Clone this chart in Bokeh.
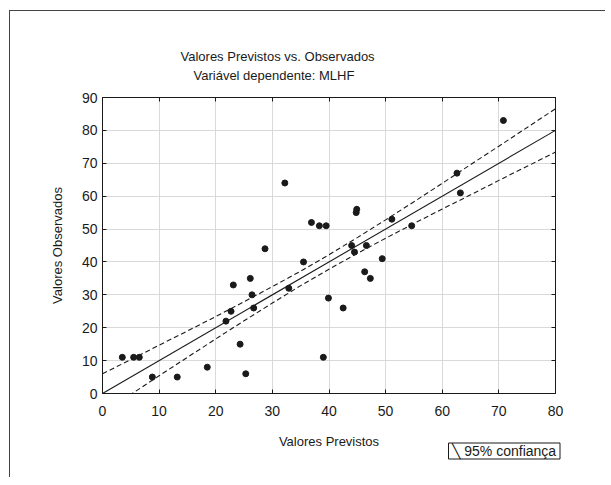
from bokeh.plotting import figure
from bokeh.models import FixedTicker, LinearAxis, Range1d, Title
from bokeh.embed import file_html
from bokeh.resources import INLINE

# ---------------- data ----------------
predicted = [3.5, 5.5, 6.5, 8.8, 13.2, 18.5, 21.8, 22.7, 23.1, 24.3, 25.3, 26.1,
             26.4, 26.7, 28.7, 32.9, 35.5, 32.2, 36.9, 38.3, 39.5, 44.0, 44.5,
             44.8, 44.9, 46.6, 49.4, 46.3, 47.3, 51.1, 54.6, 62.6, 63.2, 70.8,
             39.9, 42.5, 39.0]
observed = [11, 11, 11, 5, 5, 8, 22, 25, 33, 15, 6, 35,
            30, 26, 44, 32, 40, 64, 52, 51, 51, 45, 43,
            55, 56, 45, 41, 37, 35, 53, 51, 67, 61, 83,
            29, 26, 11]

fit_x = [0, 80]
fit_y = [0, 80]

band_x = [0, 5, 10, 15, 20, 25, 30, 35, 40, 45, 50, 55, 60, 65, 70, 75, 80]
band_upper = [6.0, 10.3, 14.7, 19.0, 23.4, 27.9, 32.5, 37.2, 42.2, 47.4, 52.8,
              58.3, 63.9, 69.6, 75.2, 80.9, 86.6]
band_lower = [-6.0, -0.3, 5.4, 11.0, 16.6, 22.1, 27.5, 32.8, 37.8, 42.6, 47.2,
              51.7, 56.1, 60.4, 64.8, 69.1, 73.4]

x_ticks = [0, 10, 20, 30, 40, 50, 60, 70, 80]
y_ticks = [0, 10, 20, 30, 40, 50, 60, 70, 80, 90]

title_line1 = "Valores Previstos vs. Observados"
title_line2 = "Variável dependente: MLHF"
x_label = "Valores Previstos"
y_label = "Valores Observados"
legend_label = "95% confiança"
legend_icon = "\u2572"

# ---------------- styling ----------------
FONT = "Liberation Sans"
INK = "#1a1a1a"
NB = "\u00a0"

p = figure(frame_width=453, frame_height=296,
           x_range=Range1d(0, 80), y_range=Range1d(0, 90),
           output_backend="svg", toolbar_location=None,
           min_border_left=92, min_border_right=50,
           min_border_top=86, min_border_bottom=84,
           background_fill_color="white", border_fill_color="white")
p.styles = {"margin-left": "9px", "margin-top": "10px",
            "border-left": "1px solid #444", "border-top": "1px solid #444"}

xa = p.below[0]
ya = p.left[0]

p.outline_line_color = INK
p.outline_line_width = 1

xa.ticker = FixedTicker(ticks=x_ticks)
ya.ticker = FixedTicker(ticks=y_ticks)
p.xgrid.grid_line_color = "#d9d9d9"
p.ygrid.grid_line_color = "#d9d9d9"

right_axis = LinearAxis(ticker=FixedTicker(ticks=y_ticks))
top_axis = LinearAxis(ticker=FixedTicker(ticks=x_ticks))
p.add_layout(right_axis, "right")
p.add_layout(top_axis, "above")

for ax in [xa, ya, right_axis, top_axis]:
    ax.axis_line_color = INK
    ax.major_tick_line_color = INK
    ax.major_tick_in = 4
    ax.major_tick_out = 0
    ax.minor_tick_line_color = None
    ax.major_label_text_font = FONT
    ax.major_label_text_font_size = "14px"
    ax.major_label_text_color = INK

for ax in [right_axis, top_axis]:
    ax.major_label_text_color = None
    ax.major_label_text_font_size = "0px"
    ax.major_label_standoff = 0

xa.major_label_standoff = 12
ya.major_label_standoff = 5
xa.axis_label = x_label
ya.axis_label = y_label
for ax in [xa, ya]:
    ax.axis_label_text_font = FONT
    ax.axis_label_text_font_size = "13px"
    ax.axis_label_text_font_style = "normal"
    ax.axis_label_text_color = INK
xa.axis_label_standoff = 15
ya.axis_label_standoff = 14

# ---------------- titles (stacked outward from the frame) ----------------
spacer = Title(text=" ", text_font=FONT, text_font_size="11px", standoff=0)
p.add_layout(spacer, "above")
sub = Title(text=title_line2, align="left", offset=91, text_font=FONT,
            text_font_size="13px", text_font_style="normal", text_color=INK,
            standoff=1)
p.add_layout(sub, "above")
p.title.text = title_line1
p.title.align = "left"
p.title.offset = 78
p.title.text_font = FONT
p.title.text_font_size = "13px"
p.title.text_font_style = "normal"
p.title.text_color = INK
p.title.standoff = 4

# ---------------- glyphs ----------------
p.line(band_x, band_upper, line_color=INK, line_width=1.1, line_dash="5 3")
p.line(band_x, band_lower, line_color=INK, line_width=1.1, line_dash="5 3")
p.line(fit_x, fit_y, line_color=INK, line_width=1.1)
p.scatter(predicted, observed, size=6, marker="circle",
          fill_color=INK, line_color=INK)

# ---------------- legend box (boxed text beside the x-axis label) ----------------
legend_box = Title(text=NB + legend_icon + NB + legend_label + NB, align="left",
                   offset=346, vertical_align="top", standoff=-17,
                   text_font=FONT, text_font_size="14px",
                   text_font_style="normal", text_color=INK,
                   border_line_color=INK, border_line_width=1,
                   background_fill_color="white")
p.add_layout(legend_box, "below")

open("out.html", "w").write(file_html(p, INLINE))
